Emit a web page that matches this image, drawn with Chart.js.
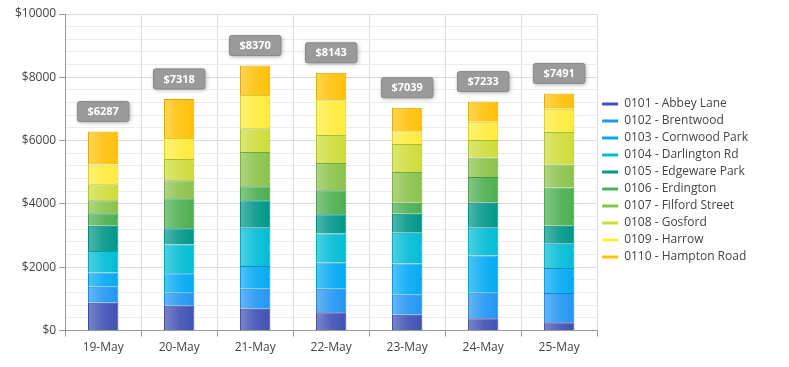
<!DOCTYPE html>
<html>
<head>
<meta charset="utf-8">
<script src="https://cdn.jsdelivr.net/npm/chart.js@4/dist/chart.umd.min.js"></script>
<style>
    html, body { margin: 0; padding: 0; background: #fff; }
    #wrap { width: 789px; height: 367px; }
</style>
</head>
<body>
<div id="wrap"><canvas id="sales"></canvas></div>
<script>
// Days on the x axis
const days = ['19-May', '20-May', '21-May', '22-May', '23-May', '24-May', '25-May'];

// Sales per store, one value per day
const abbeyLane = [879, 784, 689, 581, 498, 390, 263];
const brentwood = [508, 413, 635, 743, 635, 807, 921];
const cornwoodPark = [445, 613, 717, 825, 984, 1174, 794];
const darlingtonRd = [685, 911, 1207, 921, 972, 877, 762];
const edgewarePark = [794, 508, 869, 603, 603, 793, 571];
const erdington = [394, 952, 445, 762, 349, 807, 1206];
const filfordStreet = [412, 571, 1079, 857, 965, 622, 731];
const gosford = [508, 667, 749, 889, 889, 552, 1028];
const harrow = [623, 667, 1048, 1098, 400, 572, 730];
const hamptonRoad = [1039, 1232, 932, 864, 744, 639, 485];

const stores = [
    ['0101 - Abbey Lane', abbeyLane, '#3F51B5'],
    ['0102 - Brentwood', brentwood, '#2196F3'],
    ['0103 - Cornwood Park', cornwoodPark, '#03A9F4'],
    ['0104 - Darlington Rd', darlingtonRd, '#00BCD4'],
    ['0105 - Edgeware Park', edgewarePark, '#009688'],
    ['0106 - Erdington', erdington, '#4CAF50'],
    ['0107 - Filford Street', filfordStreet, '#8BC34A'],
    ['0108 - Gosford', gosford, '#CDDC39'],
    ['0109 - Harrow', harrow, '#FFEB3B'],
    ['0110 - Hampton Road', hamptonRoad, '#FFC107']
];

// mix a hex colour towards white (amt > 0) or black (amt < 0)
const shade = (hex, amt) => {
    const n = parseInt(hex.slice(1), 16);
    let rgb = [(n >> 16) & 255, (n >> 8) & 255, n & 255];
    rgb = rgb.map(c => amt > 0 ? Math.round(c + (255 - c) * amt) : Math.round(c * (1 + amt)));
    return `rgb(${rgb[0]}, ${rgb[1]}, ${rgb[2]})`;
}

// horizontal gradient across each bar, lighter on the left
const barGradient = (base) => (ctx) => {
    const chart = ctx.chart;
    const xs = chart.scales.x;
    if (!xs || !chart.chartArea || ctx.dataIndex === undefined) return base;
    const cx = xs.getPixelForValue(ctx.dataIndex);
    const half = (chart.chartArea.width / days.length) * 0.4 / 2;
    const g = chart.ctx.createLinearGradient(cx - half, 0, cx + half, 0);
    g.addColorStop(0, shade(base, 0.3));
    g.addColorStop(0.5, shade(base, 0.1));
    g.addColorStop(1, base);
    return g;
}

// grey boxes with the day total above every stack
const totalsPlugin = {
    id: 'totals',
    afterLayout(chart) {
        // nudge the legend block up a little
        chart.legend.top -= 6;
        chart.legend.bottom -= 6;
    },
    afterDatasetsDraw(chart) {
        const ctx = chart.ctx;
        const last = chart.getDatasetMeta(stores.length - 1);
        days.forEach((d, i) => {
            const total = stores.reduce((s, st) => s + st[1][i], 0);
            const bar = last.data[i];
            const text = '$' + total;
            ctx.save();
            ctx.font = 'bold 11px "Open Sans"';
            const w = ctx.measureText(text).width + 20;
            const h = 20;
            const x = bar.x - w / 2;
            const y = bar.y - 10 - h;
            ctx.shadowColor = 'rgba(0, 0, 0, 0.35)';
            ctx.shadowBlur = 4;
            ctx.shadowOffsetX = 1;
            ctx.shadowOffsetY = 1;
            ctx.fillStyle = '#9a9a9a';
            ctx.beginPath();
            ctx.roundRect(x, y, w, h, 2);
            ctx.fill();
            ctx.shadowColor = 'transparent';
            ctx.strokeStyle = '#888';
            ctx.lineWidth = 1;
            ctx.stroke();
            ctx.fillStyle = '#fff';
            ctx.textAlign = 'center';
            ctx.textBaseline = 'middle';
            ctx.fillText(text, bar.x, y + h / 2 + 0.5);
            ctx.restore();
        });
    }
}

document.addEventListener('DOMContentLoaded', () => {
    const canvas = document.getElementById('sales');
    Chart.defaults.font.family = '"Open Sans", sans-serif';
    Chart.defaults.font.size = 12;
    Chart.defaults.color = '#555';

    new Chart(canvas, {
        type: 'bar',
        data: {
            labels: days,
            datasets: stores.map(([label, data, color]) => ({
                label: label,
                data: data,
                backgroundColor: barGradient(color),
                borderColor: shade(color, -0.15),
                borderWidth: 1,
                categoryPercentage: 1,
                barPercentage: 0.4
            }))
        },
        options: {
            responsive: true,
            maintainAspectRatio: false,
            animation: false,
            layout: {
                padding: { left: 12, right: 31, top: 14, bottom: 8 }
            },
            plugins: {
                tooltip: { enabled: false },
                legend: {
                    position: 'right',
                    labels: {
                        usePointStyle: true,
                        pointStyle: 'line',
                        pointStyleWidth: 16,
                        boxHeight: 12,
                        padding: 5,
                        color: '#444',
                        font: { size: 12 },
                        generateLabels(chart) {
                            const items = Chart.defaults.plugins.legend.labels.generateLabels(chart);
                            items.forEach((it, i) => {
                                it.strokeStyle = stores[i][2];
                                it.lineWidth = 3;
                            });
                            return items;
                        }
                    }
                }
            },
            scales: {
                x: {
                    stacked: true,
                    border: { color: '#999' },
                    grid: {
                        color: '#ddd',
                        tickColor: '#999',
                        tickLength: 6
                    },
                    ticks: { color: '#444', padding: 4 }
                },
                y: {
                    stacked: true,
                    min: 0,
                    max: 10000,
                    border: { color: '#999' },
                    grid: {
                        color: (c) => c.tick && c.tick.value % 2000 === 0 ? '#dcdcdc' : '#ececec',
                        tickColor: (c) => c.tick && c.tick.value % 2000 === 0 ? '#999' : 'transparent',
                        tickLength: 6
                    },
                    ticks: {
                        stepSize: 400,
                        autoSkip: false,
                        color: '#444',
                        padding: 3,
                        callback: (v) => v % 2000 === 0 ? '$' + v : ''
                    }
                }
            }
        },
        plugins: [totalsPlugin]
    });
});
</script>
</body>
</html>
